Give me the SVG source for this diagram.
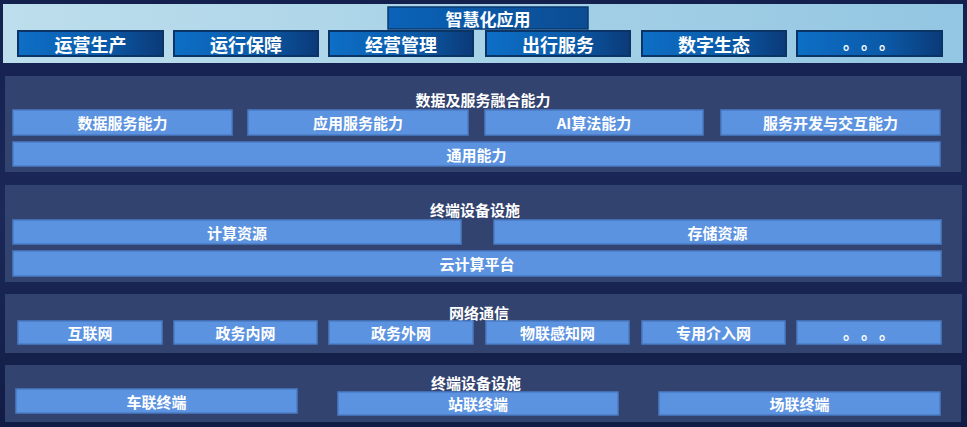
<svg xmlns="http://www.w3.org/2000/svg" width="967" height="427" viewBox="0 0 967 427">
<defs>
<linearGradient id="bg" x1="0" y1="0" x2="0" y2="1">
<stop offset="0" stop-color="#14204e"/>
<stop offset="0.5" stop-color="#1b2858"/>
<stop offset="1" stop-color="#121c45"/>
</linearGradient>
<linearGradient id="topPanel" x1="0" y1="0" x2="1" y2="0">
<stop offset="0" stop-color="#bddeec"/>
<stop offset="1" stop-color="#93c6e2"/>
</linearGradient>
<linearGradient id="darkBox" x1="0" y1="0" x2="1" y2="0">
<stop offset="0" stop-color="#0d6fc6"/>
<stop offset="0.6" stop-color="#0b5aa8"/>
<stop offset="1" stop-color="#0b3a78"/>
</linearGradient>
<linearGradient id="titleBox" x1="0" y1="0" x2="1" y2="0">
<stop offset="0" stop-color="#0a63b8"/>
<stop offset="1" stop-color="#0c4c92"/>
</linearGradient>
</defs>
<style>
.panel{fill:#33436f;}
.box{fill:#5c93e0;stroke:#4a7cc4;stroke-width:1.5;}
.dbox{fill:url(#darkBox);stroke:#0a3466;stroke-width:2;}
text{font-family:"Noto Sans CJK SC","Noto Sans",sans-serif;font-weight:bold;fill:#ffffff;text-anchor:middle;dominant-baseline:central;}
.t18{font-size:18px;}
.t17{font-size:17px;}
.t15{font-size:15px;}
.dots{font-size:16px;dominant-baseline:alphabetic;text-anchor:start;letter-spacing:10px;}
</style>
<rect x="0" y="0" width="967" height="427" fill="url(#bg)"/>
<g id="layer-apps">
<rect x="3" y="4" width="960" height="59" fill="url(#topPanel)"/>
<g id="title-apps"><rect x="388" y="7" width="200" height="22" fill="url(#titleBox)" stroke="#0a3a70" stroke-width="1.5"/><text class="t17" x="488" y="18">智慧化应用</text></g>
<g id="app1"><rect class="dbox" x="18" y="31" width="145" height="25"/><text class="t18" x="90.5" y="43.5">运营生产</text></g>
<g id="app2"><rect class="dbox" x="174" y="31" width="144" height="25"/><text class="t18" x="246" y="43.5">运行保障</text></g>
<g id="app3"><rect class="dbox" x="329" y="31" width="144" height="25"/><text class="t18" x="401" y="43.5">经营管理</text></g>
<g id="app4"><rect class="dbox" x="486" y="31" width="144" height="25"/><text class="t18" x="558" y="43.5">出行服务</text></g>
<g id="app5"><rect class="dbox" x="642" y="31" width="144" height="25"/><text class="t18" x="714" y="43.5">数字生态</text></g>
<g id="app6"><rect class="dbox" x="797" y="31" width="145" height="25"/><text class="dots" x="843" y="49">。。。</text></g>
</g>
<g id="layer-data">
<rect class="panel" x="5" y="76" width="956" height="96"/>
<text class="t15" x="483" y="99">数据及服务融合能力</text>
<g id="data1"><rect class="box" x="13" y="110" width="219" height="25"/><text class="t15" x="122.5" y="122.5">数据服务能力</text></g>
<g id="data2"><rect class="box" x="248" y="110" width="220" height="25"/><text class="t15" x="358" y="122.5">应用服务能力</text></g>
<g id="data3"><rect class="box" x="485" y="110" width="218" height="25"/><text class="t15" x="594" y="122.5">AI算法能力</text></g>
<g id="data4"><rect class="box" x="721" y="110" width="219" height="25"/><text class="t15" x="830.5" y="122.5">服务开发与交互能力</text></g>
<g id="data5"><rect class="box" x="13" y="142" width="927" height="24"/><text class="t15" x="476.5" y="154">通用能力</text></g>
</g>
<g id="layer-infra">
<rect class="panel" x="5" y="185" width="957" height="97"/>
<text class="t15" x="475" y="209">终端设备设施</text>
<g id="infra1"><rect class="box" x="13" y="220" width="448" height="24"/><text class="t15" x="237" y="232">计算资源</text></g>
<g id="infra2"><rect class="box" x="494" y="220" width="447" height="24"/><text class="t15" x="717.5" y="232">存储资源</text></g>
<g id="infra3"><rect class="box" x="13" y="251" width="928" height="25"/><text class="t15" x="477" y="263.5">云计算平台</text></g>
</g>
<g id="layer-net">
<rect class="panel" x="5" y="294" width="957" height="59"/>
<text class="t15" x="479" y="312">网络通信</text>
<g id="net1"><rect class="box" x="18" y="321" width="144" height="23"/><text class="t15" x="90" y="332.5">互联网</text></g>
<g id="net2"><rect class="box" x="174" y="321" width="143" height="23"/><text class="t15" x="245.5" y="332.5">政务内网</text></g>
<g id="net3"><rect class="box" x="329" y="321" width="144" height="23"/><text class="t15" x="401" y="332.5">政务外网</text></g>
<g id="net4"><rect class="box" x="486" y="321" width="143" height="23"/><text class="t15" x="557.5" y="332.5">物联感知网</text></g>
<g id="net5"><rect class="box" x="642" y="321" width="143" height="23"/><text class="t15" x="713.5" y="332.5">专用介入网</text></g>
<g id="net6"><rect class="box" x="797" y="321" width="144" height="23"/><text class="dots" x="843" y="339">。。。</text></g>
</g>
<g id="layer-terminal">
<rect class="panel" x="5" y="365" width="956" height="57"/>
<text class="t15" x="476" y="382">终端设备设施</text>
<g id="term1"><rect class="box" x="16" y="389" width="281" height="24"/><text class="t15" x="156.5" y="401">车联终端</text></g>
<g id="term2"><rect class="box" x="338" y="392" width="280" height="23"/><text class="t15" x="478" y="403.5">站联终端</text></g>
<g id="term3"><rect class="box" x="659" y="392" width="281" height="23"/><text class="t15" x="799.5" y="403.5">场联终端</text></g>
</g>
<g id="connectors"></g>
</svg>
